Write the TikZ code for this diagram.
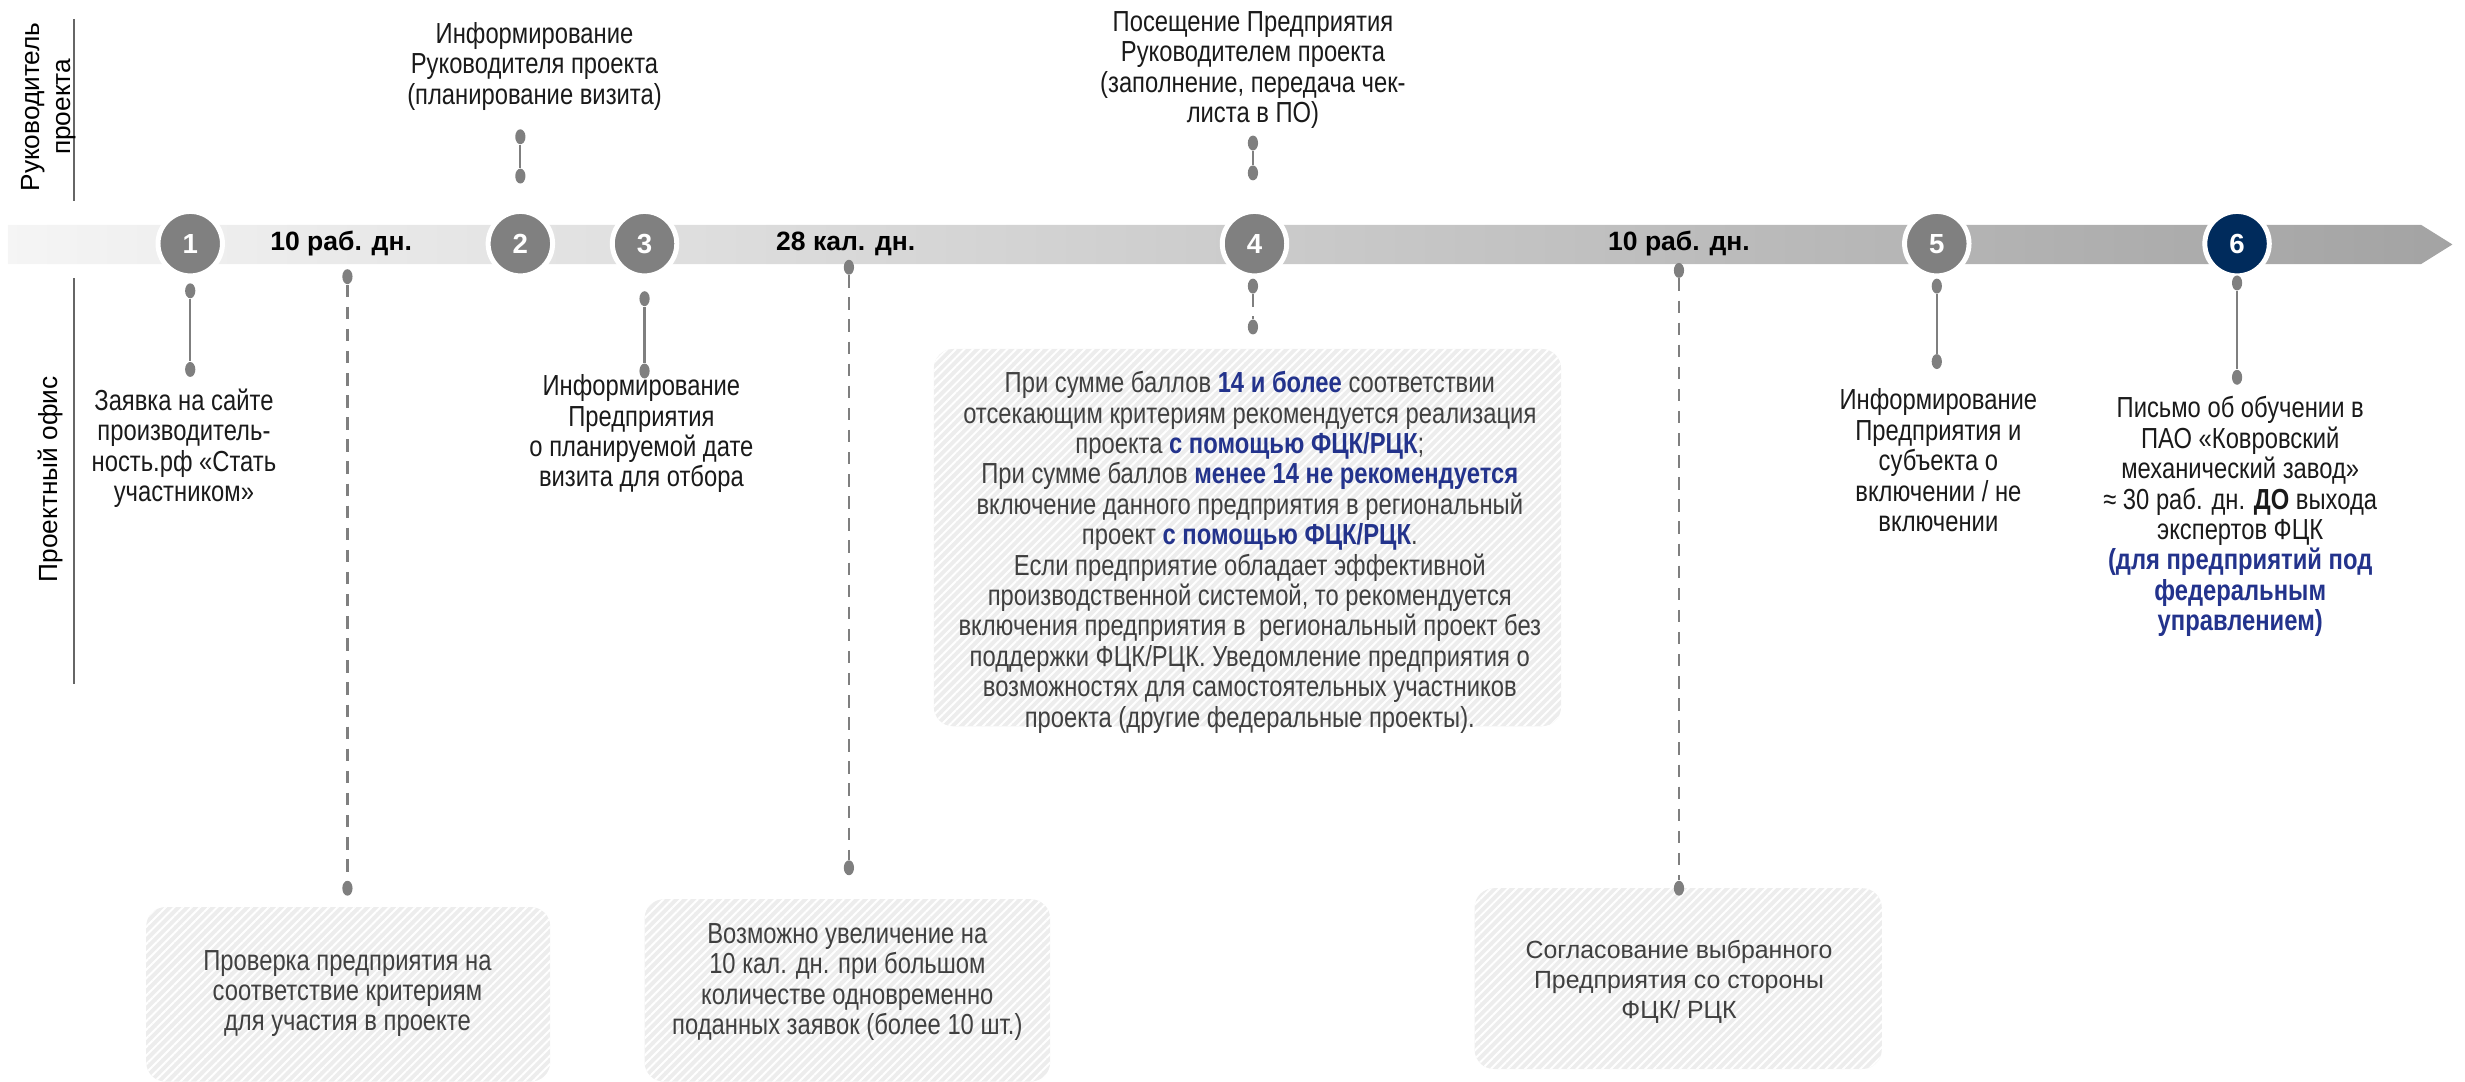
\documentclass[tikz,border=0pt]{standalone}
\usepackage{fontspec}
\setmainfont{Liberation Sans}
\newfontfamily\narrowfont[FakeStretch=0.82]{Liberation Sans}
\usepackage{xcolor}
\usepackage{tikz}
\usetikzlibrary{shapes.geometric,patterns.meta}
\definecolor{numgray}{HTML}{808080}
\definecolor{dotgray}{HTML}{7F7F7F}
\definecolor{navy}{HTML}{002B5C}
\definecolor{hlblue}{HTML}{23338C}
\definecolor{txtdark}{HTML}{1A1A1A}
\definecolor{boxtxt}{HTML}{404040}
\definecolor{boxgray}{HTML}{EDEDED}
\newcommand{\hl}[1]{\textcolor{hlblue}{\bfseries #1}}
\begin{document}
\begin{tikzpicture}[x=0.02cm,y=-0.02cm,
      stepnum/.style={circle,fill=numgray,draw=white,line width=1.8pt,minimum size=0.82cm,
        inner sep=0pt,text=white,font=\bfseries\fontsize{10}{12}\selectfont},
      dot/.style={ellipse,fill=dotgray,minimum width=0.13cm,minimum height=0.19cm,inner sep=0pt},
      stem/.style={draw=dotgray,line width=0.8pt},
      dashstem/.style={stem,dash pattern=on 4.5pt off 3.5pt},
      note/.style={align=center,inner sep=0pt,text=txtdark,
        font=\narrowfont\fontsize{10.5}{11}\selectfont},
      boxnote/.style={note,text=boxtxt},
      period/.style={font=\bfseries\fontsize{9.6}{12}\selectfont},
      lane/.style={rotate=90,align=center,font=\fontsize{9.5}{11}\selectfont},
      hatchbox/.style={rounded corners=7pt,fill=boxgray,
        postaction={pattern={Lines[angle=45,distance=2.2pt,line width=0.7pt]},pattern color=white}}]
      \useasboundingbox (0,0) rectangle (1568,688);
      % lanes
      \draw[gray!80!black,line width=0.6pt] (47,12) -- (47,128);
      \draw[gray!80!black,line width=0.6pt] (47,177) -- (47,435);
      \node[lane] (lanetop) at (31,68) {Руководитель\\проекта};
      \node[lane] (lanebot) at (32,305) {Проектный офис};
      % timeline band
      \shade[left color=black!4,right color=black!36]
        (5,143) -- (1540,143) -- (1560,155.5) -- (1540,168) -- (5,168) -- cycle;
      \node[period] (p1) at (217,155) {10 раб. дн.};
      \node[period] (p2) at (538,155) {28 кал. дн.};
      \node[period] (p3) at (1068,155) {10 раб. дн.};
      \node[stepnum] (n1) at (121,155) {1};
      \node[stepnum] (n2) at (331,155) {2};
      \node[stepnum] (n3) at (410,155) {3};
      \node[stepnum] (n4) at (798,155) {4};
      \node[stepnum] (n5) at (1232,155) {5};
      \node[stepnum,fill=navy] (n6) at (1423,155) {6};
      % boxes
      \path[hatchbox] (93,577) rectangle (350,688);
      \path[hatchbox] (410,572) rectangle (668,688);
      \path[hatchbox] (938,565) rectangle (1197,680);
      \path[hatchbox] (594,222) rectangle (993,462);
      % stems
      \node[dot] (d1a) at (121,185) {};
      \node[dot] (d1b) at (121,235) {};
      \draw[stem] (d1a) -- (d1b);
      \node[dot] (d2a) at (331,87) {};
      \node[dot] (d2b) at (331,112) {};
      \draw[stem] (d2a) -- (d2b);
      \node[dot] (d3a) at (410,190) {};
      \node[dot] (d3b) at (410,236) {};
      \draw[stem] (d3a) -- (d3b);
      \node[dot] (d4a) at (797,91) {};
      \node[dot] (d4b) at (797,110) {};
      \draw[stem] (d4a) -- (d4b);
      \node[dot] (d4c) at (797,182) {};
      \node[dot] (d4d) at (797,208) {};
      \draw[dashstem] (d4c) -- (d4d);
      \node[dot] (d5a) at (1232,182) {};
      \node[dot] (d5b) at (1232,230) {};
      \draw[stem] (d5a) -- (d5b);
      \node[dot] (d6a) at (1423,180) {};
      \node[dot] (d6b) at (1423,240) {};
      \draw[stem] (d6a) -- (d6b);
      \node[dot] (q1a) at (221,176) {};
      \node[dot] (q1b) at (221,565) {};
      \draw[dashstem] (q1a) -- (q1b);
      \node[dot] (q2a) at (540,170) {};
      \node[dot] (q2b) at (540,552) {};
      \draw[dashstem] (q2a) -- (q2b);
      \node[dot] (q3a) at (1068,172) {};
      \node[dot] (q3b) at (1068,565) {};
      \draw[dashstem] (q3a) -- (q3b);
      % texts
      \node[note,anchor=north] (t2) at (340,14) {Информирование\\Руководителя проекта\\(планирование визита)};
      \node[note,anchor=north] (t4) at (797,7) {Посещение Предприятия\\Руководителем проекта\\(заполнение, передача чек-\\листа в ПО)};
      \node[note,anchor=north] (t1) at (117,247) {Заявка на сайте\\производитель-\\ность.рф «Стать\\участником»};
      \node[note,anchor=north] (t3) at (408,238) {Информирование\\Предприятия\\о планируемой дате\\визита для отбора};
      \node[note,anchor=north] (t5) at (1233,247) {Информирование\\Предприятия и\\субъекта о\\включении / не\\включении};
      \node[note,anchor=north] (t6) at (1425,252) {Письмо об обучении в\\ПАО «Ковровский\\механический завод»\\≈ 30 раб. дн. \textbf{ДО} выхода\\экспертов ФЦК\\
        \hl{(для предприятий под}\\\hl{федеральным}\\\hl{управлением)}};
      \node[boxnote,anchor=north] (b4) at (795,236) {При сумме баллов \hl{14 и более} соответствии\\
        отсекающим критериям рекомендуется реализация\\проекта \hl{с помощью ФЦК/РЦК};\\
        При сумме баллов \hl{менее 14 не рекомендуется}\\включение данного предприятия в региональный\\
        проект \hl{с помощью ФЦК/РЦК}.\\Если предприятие обладает эффективной\\
        производственной системой, то рекомендуется\\включения предприятия в~ региональный проект без\\
        поддержки ФЦК/РЦК. Уведомление предприятия о\\возможностях для самостоятельных участников\\
        проекта (другие федеральные проекты).};
      \node[boxnote,anchor=north] (bA) at (221,604) {Проверка предприятия на\\соответствие критериям\\для участия в проекте};
      \node[boxnote,anchor=north] (bB) at (539,587) {Возможно увеличение на\\10 кал. дн. при большом\\количестве одновременно\\поданных заявок (более 10 шт.)};
      \node[boxnote,anchor=north,font=\fontsize{9}{10.8}\selectfont] (bC) at (1068,598) {Согласование выбранного\\Предприятия со стороны\\ФЦК/ РЦК};
\end{tikzpicture}
\end{document}
